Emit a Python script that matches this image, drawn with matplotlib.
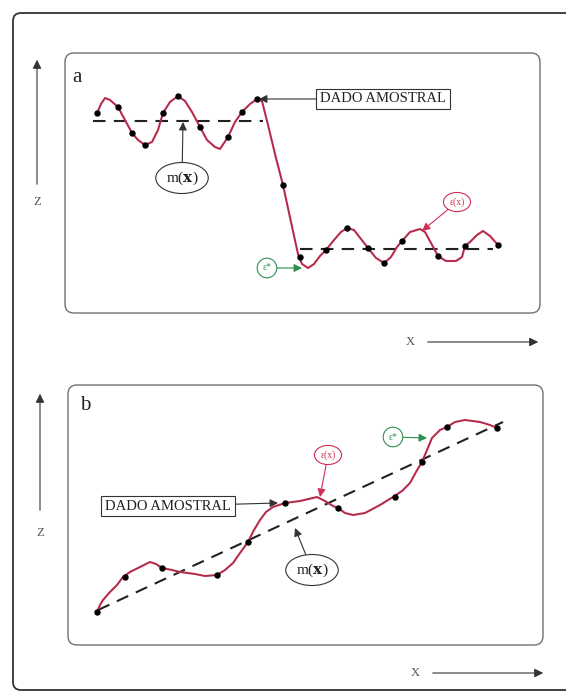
import matplotlib
matplotlib.use("Agg")
import matplotlib.pyplot as plt
from matplotlib.patches import FancyBboxPatch

plt.rcParams['font.family'] = ['Liberation Serif', 'DejaVu Serif']
plt.rcParams['mathtext.fontset'] = 'dejavuserif'

W, H = 566, 693

# ---- panel a: step in the mean (x = distance along X, z = height) ----
a_curve_x = [32, 36, 40, 45, 53, 60, 67, 73, 80, 87, 93, 98, 105, 113, 120, 127,
             135, 142, 150, 155, 163, 170, 177, 185, 192, 197, 203, 211, 218, 226,
             233, 237, 243, 249, 255, 261, 269, 276, 282, 289, 296, 303, 311, 319,
             326, 332, 337, 345, 355, 360, 366, 373, 381, 391, 397, 400, 405, 412,
             418, 425, 433]
a_curve_z = [200, 209, 215, 213, 206, 193, 180, 173, 168, 171, 183, 200, 211, 217,
             212, 201, 186, 173, 166, 164, 176, 191, 201, 209, 214, 212, 188, 155,
             128, 91, 59, 49, 45, 49, 57, 63, 73, 81, 85, 83, 74, 65, 55, 50, 56,
             66, 72, 81, 84, 81, 70, 57, 52, 52, 56, 67, 71, 78, 82, 77, 68]
a_samp_x = [32, 53, 67, 80, 98, 113, 135, 163, 177, 192, 218, 235, 261, 282, 303,
            319, 337, 373, 400, 433]
a_samp_z = [200, 206, 180, 168, 200, 217, 186, 176, 201, 214, 128, 56, 63, 85, 65,
            50, 72, 57, 67, 68]
a_mean_hi_x = [28, 198]
a_mean_hi_z = [192, 192]
a_mean_lo_x = [235, 428]
a_mean_lo_z = [64, 64]

# ---- panel b: linear drift in the mean ----
b_curve_x = [29, 32, 35, 42, 49, 55, 62, 72, 82, 88, 94, 104, 112, 127, 137, 149,
             157, 165, 172, 180, 186, 192, 198, 205, 217, 232, 249, 257, 265, 270,
             277, 285, 297, 312, 325, 334, 342, 348, 354, 359, 364, 372, 379, 387,
             397, 412, 422, 429]
b_curve_z = [33, 40, 45, 53, 60, 68, 73, 78, 83, 81, 77, 75, 73, 71, 69, 70, 75,
             82, 92, 103, 115, 125, 133, 138, 142, 144, 148, 144, 139, 137, 132,
             130, 132, 140, 148, 154, 162, 173, 183, 195, 207, 215, 218, 223, 225,
             223, 220, 217]
b_samp_x = [29, 57, 94, 149, 180, 217, 270, 327, 354, 379, 429]
b_samp_z = [33, 68, 77, 70, 103, 142, 137, 148, 183, 218, 217]
b_mean_x = [30, 435]
b_mean_z = [35, 223]

RED = '#cf2f55'
GREEN = '#2f8f4f'
INK = '#222222'

fig = plt.figure(figsize=(W / 100, H / 100), dpi=100)

# page layer in pixel units for frames and axis arrows
bg = fig.add_axes([0, 0, 1, 1])
bg.set_xlim(0, W)
bg.set_ylim(H, 0)
bg.axis('off')

bg.add_patch(FancyBboxPatch((13, 13), 600, 677, boxstyle='round,pad=0,rounding_size=8',
                            fc='none', ec='#333333', lw=1.3))
panels = [(65, 53, 475, 260), (68, 385, 475, 260)]
for (px, py, pw, ph) in panels:
    bg.add_patch(FancyBboxPatch((px, py), pw, ph, boxstyle='round,pad=0,rounding_size=9',
                                fc='none', ec='#707070', lw=1.0))

arrow = dict(arrowstyle='-|>', color='#333333', lw=0.8, mutation_scale=13)
for (zx, z0, z1, zl), (xt, xa0, xa1, xy) in [((37, 187, 57, 202), (410, 425, 541, 342)),
                                              ((40, 513, 391, 533), (415, 430, 546, 673))]:
    bg.annotate('', xy=(zx, z1), xytext=(zx, z0), arrowprops=arrow)
    bg.text(zx, zl, 'Z', ha='center', va='center', fontsize=9, color='#555555')
    bg.annotate('', xy=(xa1, xy), xytext=(xa0, xy), arrowprops=arrow)
    bg.text(xt, xy, 'X', ha='center', va='center', fontsize=9, color='#555555')


def draw_panel(rect, cx, cz, sx, sz, means):
    ax = fig.add_axes(rect)
    ax.set_xlim(0, 475)
    ax.set_ylim(0, 260)
    ax.axis('off')
    ax.patch.set_alpha(0)
    for mx, mz in means:
        ax.plot(mx, mz, color=INK, lw=1.5, dashes=(6, 4), zorder=2)
    ax.plot(cx, cz, color=RED, lw=1.5, zorder=3, solid_joinstyle='round')
    ax.plot(cx, cz, color='#4a2a2a', lw=0.6, alpha=0.4, zorder=4)
    ax.plot(sx, sz, 'o', color='black', ms=3.6, zorder=5)
    return ax


def label(ax, text, xy, xytext, color, fs, box, edge):
    ax.annotate(text, xy=xy, xytext=xytext, ha='center', va='center',
                fontsize=fs, color=color,
                bbox=dict(boxstyle=box, fc='white', ec=edge, lw=0.8),
                arrowprops=dict(arrowstyle='-|>', color=edge, lw=0.8,
                                mutation_scale=12, shrinkA=0, shrinkB=0),
                zorder=6)


def fig_rect(px, py, pw, ph):
    return [px / W, 1 - (py + ph) / H, pw / W, ph / H]


ax_a = draw_panel(fig_rect(*panels[0]), a_curve_x, a_curve_z, a_samp_x, a_samp_z,
                  [(a_mean_hi_x, a_mean_hi_z), (a_mean_lo_x, a_mean_lo_z)])
ax_a.text(12, 235, 'a', fontsize=15, ha='center', va='center', color=INK)
label(ax_a, 'DADO AMOSTRAL', (194, 214), (318, 214), INK, 10.5,
      'square,pad=0.25', '#333333')
label(ax_a, r'm($\mathbf{x}$)', (118, 191), (117, 135), INK, 11,
      'ellipse,pad=0.15', '#333333')
label(ax_a, 'ε(x)', (357, 82), (392, 111), RED, 7, 'ellipse,pad=0.2', RED)
label(ax_a, 'ε*', (237, 45), (202, 45), GREEN, 7, 'ellipse,pad=0.25', GREEN)

ax_b = draw_panel(fig_rect(*panels[1]), b_curve_x, b_curve_z, b_samp_x, b_samp_z,
                  [(b_mean_x, b_mean_z)])
ax_b.text(17, 240, 'b', fontsize=15, ha='center', va='center', color=INK)
label(ax_b, 'DADO AMOSTRAL', (210, 142), (100, 139), INK, 10.5,
      'square,pad=0.25', '#333333')
label(ax_b, r'm($\mathbf{x}$)', (227, 117), (244, 75), INK, 11,
      'ellipse,pad=0.15', '#333333')
label(ax_b, 'ε(x)', (252, 148), (260, 190), RED, 7, 'ellipse,pad=0.2', RED)
label(ax_b, 'ε*', (359, 207), (325, 208), GREEN, 7, 'ellipse,pad=0.25', GREEN)

fig.savefig('out.png', dpi=100, facecolor='white')
